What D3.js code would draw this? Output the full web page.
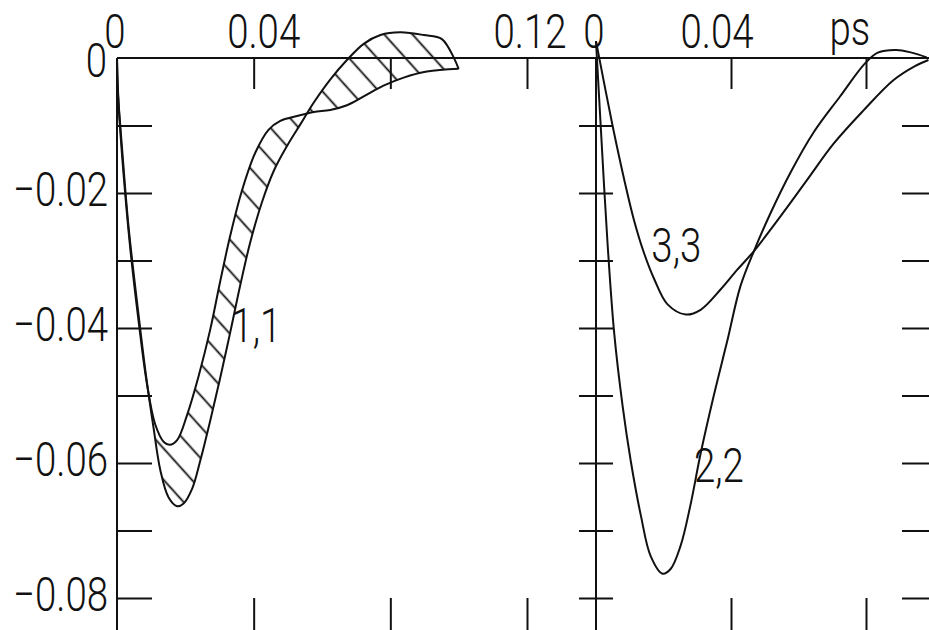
<!DOCTYPE html>
<html>
<head>
<meta charset="utf-8">
<title>Correlation functions</title>
<style>
body { margin: 0; background: #fff; }
svg { display: block; }
.lbl { font-family: Roboto, "DejaVu Sans", sans-serif; font-weight: 300; font-size: 48px; fill: #111; }
.axis line { stroke: #111; stroke-width: 2; }
.axis path { display: none; }
</style>
<script src="https://d3js.org/d3.v7.min.js"></script>
</head>
<body>
<script>
// tick values (ps on x, arbitrary units on y)
var yTicks = [0, -0.01, -0.02, -0.03, -0.04, -0.05, -0.06, -0.07, -0.08];
var yLabelVals = [-0.02, -0.04, -0.06, -0.08];
var yLabelText = ["\u22120.02", "\u22120.04", "\u22120.06", "\u22120.08"];
var xTicksLeft = [0.04, 0.08, 0.12];
var xTicksRight = [0.04, 0.08];
var xLabelLeftVals = [0, 0.04, 0.12];
var xLabelLeftText = ["0", "0.04", "0.12"];
var xLabelRightVals = [0, 0.04];
var xLabelRightText = ["0", "0.04"];

// 1,1 : two bounding curves of the hatched band
var c11Upper = [[0, 0], [0.0005, -0.0071], [0.002, -0.0177], [0.0039, -0.0283], [0.0063, -0.0389],
  [0.0088, -0.0484], [0.0112, -0.0543], [0.0137, -0.0569], [0.0154, -0.0573], [0.0176, -0.0566],
  [0.0205, -0.0529], [0.0239, -0.0471], [0.0273, -0.0402], [0.0302, -0.0331], [0.0332, -0.0262],
  [0.0366, -0.0196], [0.0405, -0.014], [0.0444, -0.0106], [0.0478, -0.0093], [0.0527, -0.0086],
  [0.0576, -0.008], [0.0624, -0.0077], [0.0673, -0.007], [0.0722, -0.0057], [0.078, -0.0041],
  [0.0839, -0.0029], [0.0907, -0.002], [0.1, -0.0016]];
var c11Lower = [[0, 0], [0.0002, -0.0045], [0.0015, -0.0135], [0.0034, -0.0251], [0.0059, -0.0363],
  [0.0083, -0.0463], [0.0107, -0.0548], [0.0127, -0.0611], [0.0151, -0.0651], [0.0176, -0.0664],
  [0.0195, -0.066], [0.022, -0.0638], [0.0244, -0.0596], [0.0273, -0.0537], [0.0302, -0.0474],
  [0.0332, -0.0405], [0.0361, -0.0336], [0.039, -0.0273], [0.0424, -0.0214], [0.0459, -0.0167],
  [0.0498, -0.013], [0.0537, -0.0098], [0.0576, -0.0066], [0.0624, -0.0032], [0.0673, -0.0003],
  [0.0722, 0.0021], [0.0771, 0.0034], [0.0829, 0.0038], [0.0898, 0.0034], [0.0951, 0.0028],
  [0.1, -0.0016]];

// 2,2 and 3,3 (right panel)
var c22 = [[0, 0.0025], [0.0015, -0.011], [0.0034, -0.0273], [0.0054, -0.0408], [0.0079, -0.0516],
  [0.0103, -0.0597], [0.0133, -0.0678], [0.0162, -0.0738], [0.0197, -0.0764], [0.0221, -0.0757],
  [0.0251, -0.0722], [0.028, -0.0662], [0.031, -0.0586], [0.0349, -0.05], [0.0389, -0.0419],
  [0.0428, -0.0338], [0.0468, -0.0286], [0.0517, -0.023], [0.0576, -0.017], [0.0645, -0.011],
  [0.0723, -0.0057], [0.0797, -0.0008], [0.0835, 0.0008], [0.089, 0.0012], [0.0935, 0.0008],
  [0.098, 0.0001]];
var c33 = [[0, 0.0025], [0.0049, -0.01], [0.0084, -0.0181], [0.0113, -0.0241], [0.0143, -0.029],
  [0.0172, -0.0327], [0.0212, -0.0365], [0.0266, -0.038], [0.031, -0.0373], [0.0369, -0.0343],
  [0.0418, -0.0314], [0.0468, -0.0286], [0.0546, -0.0235], [0.0625, -0.0181], [0.0704, -0.0127],
  [0.0792, -0.0078], [0.0881, -0.0033], [0.0945, -0.0012], [0.0985, -0.0003]];

var W = 929, H = 630;
var xL = d3.scaleLinear().domain([0, 0.12]).range([117, 527]);
var xR = d3.scaleLinear().domain([0, 0.08]).range([596, 866]);
var y = d3.scaleLinear().domain([0, -0.08]).range([58, 598]);

var svg = d3.select("body").append("svg")
    .attr("width", W)
    .attr("height", H);

var defs = svg.append("defs");
var pat = defs.append("pattern")
    .attr("id", "hatch")
    .attr("patternUnits", "userSpaceOnUse")
    .attr("width", 21)
    .attr("height", 21)
    .attr("patternTransform", "rotate(48)");
pat.append("line")
    .attr("x1", -2).attr("y1", 10.5)
    .attr("x2", 23).attr("y2", 10.5)
    .attr("stroke", "#111")
    .attr("stroke-width", 1.8);

// frame lines
svg.append("line").attr("x1", xL(0)).attr("x2", W).attr("y1", y(0)).attr("y2", y(0))
    .attr("stroke", "#111").attr("stroke-width", 2);
svg.append("line").attr("x1", xL(0)).attr("x2", xL(0)).attr("y1", y(0)).attr("y2", H)
    .attr("stroke", "#111").attr("stroke-width", 2);
svg.append("line").attr("x1", xR(0)).attr("x2", xR(0)).attr("y1", y(0)).attr("y2", H)
    .attr("stroke", "#111").attr("stroke-width", 2);

// y ticks: inward on left axis, crossing on the middle axis, inward from right edge
svg.append("g").attr("class", "axis")
    .attr("transform", "translate(" + xL(0) + ",0)")
    .call(d3.axisRight(y).tickValues(yTicks.slice(1)).tickSize(35).tickFormat(""));
svg.append("g").attr("class", "axis")
    .attr("transform", "translate(" + (xR(0) - 17) + ",0)")
    .call(d3.axisRight(y).tickValues(yTicks.slice(1)).tickSize(34).tickFormat(""));
svg.append("g").attr("class", "axis")
    .attr("transform", "translate(" + W + ",0)")
    .call(d3.axisLeft(y).tickValues(yTicks.slice(1)).tickSize(27).tickFormat(""));

// x ticks, top (pointing down) and bottom (below the -0.08 level)
svg.append("g").attr("class", "axis")
    .attr("transform", "translate(0," + y(0) + ")")
    .call(d3.axisBottom(xL).tickValues(xTicksLeft).tickSize(31).tickFormat(""));
svg.append("g").attr("class", "axis")
    .attr("transform", "translate(0," + y(0) + ")")
    .call(d3.axisBottom(xR).tickValues(xTicksRight).tickSize(31).tickFormat(""));
svg.append("g").attr("class", "axis")
    .attr("transform", "translate(0," + y(-0.08) + ")")
    .call(d3.axisBottom(xL).tickValues(xTicksLeft).tickSize(40).tickFormat(""));
svg.append("g").attr("class", "axis")
    .attr("transform", "translate(0," + y(-0.08) + ")")
    .call(d3.axisBottom(xR).tickValues(xTicksRight).tickSize(40).tickFormat(""));

// narrow plotter-style text
function label(x, yy, s, anchor) {
  svg.append("g")
      .attr("transform", "translate(" + x + "," + yy + ")")
    .append("text")
      .attr("class", "lbl")
      .attr("transform", "scale(0.8,1)")
      .attr("text-anchor", anchor)
      .text(s);
}

yLabelVals.forEach(function(v, i) { label(108, y(v) + 13, yLabelText[i], "end"); });
label(107, y(0) + 19, "0", "end");
xLabelLeftVals.forEach(function(v, i) { label(xL(v) - 2 + (i == 1 ? 12 : i == 2 ? 5 : 0), 48, xLabelLeftText[i], "middle"); });
xLabelRightVals.forEach(function(v, i) { label(xR(v) - 2 - (i == 1 ? 12 : 0), 48, xLabelRightText[i], "middle"); });
label(xR(0.0752), 45, "ps", "middle");

// curves
var lineL = d3.line()
    .x(function(d) { return xL(d[0]); })
    .y(function(d) { return y(d[1]); })
    .curve(d3.curveCatmullRom.alpha(0.5));
var lineR = d3.line()
    .x(function(d) { return xR(d[0]); })
    .y(function(d) { return y(d[1]); })
    .curve(d3.curveCatmullRom.alpha(0.5));

var band = lineL(c11Upper) + lineL(c11Lower.slice().reverse()).replace(/^M/, "L") + "Z";
svg.append("path")
    .attr("d", band)
    .attr("fill", "url(#hatch)")
    .attr("stroke", "none");

[c11Upper, c11Lower].forEach(function(c) {
  svg.append("path").attr("d", lineL(c))
      .attr("fill", "none").attr("stroke", "#111").attr("stroke-width", 2);
});
[c22, c33].forEach(function(c) {
  svg.append("path").attr("d", lineR(c))
      .attr("fill", "none").attr("stroke", "#111").attr("stroke-width", 2);
});

label(xL(0.0335), y(-0.0421), "1,1", "start");
label(xR(0.0164), y(-0.0302), "3,3", "start");
label(xR(0.0290), y(-0.0628), "2,2", "start");
</script>
</body>
</html>
